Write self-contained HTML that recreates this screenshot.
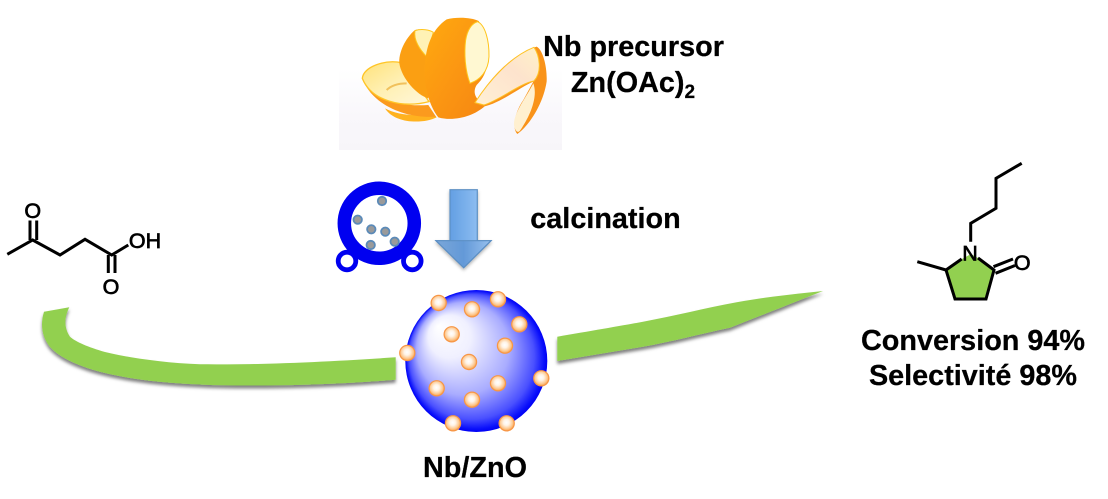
<!DOCTYPE html>
<html>
<head>
<meta charset="utf-8">
<style>
html,body{margin:0;padding:0;background:#fff;width:1108px;height:499px;overflow:hidden}
svg{display:block}
text{font-family:"Liberation Sans",sans-serif;fill:#000}
.b{font-weight:bold;font-size:28.8px;text-anchor:middle;stroke:#000;stroke-width:.25px}
.a{font-size:21.5px;text-anchor:middle;stroke:#000;stroke-width:.7px}
</style>
</head>
<body>
<svg width="1108" height="499" viewBox="0 0 1108 499" xmlns="http://www.w3.org/2000/svg">
<defs>
<radialGradient id="sph" gradientUnits="userSpaceOnUse" cx="476.3" cy="361" r="71" fx="438" fy="326">
<stop offset="0" stop-color="#fff"/><stop offset=".3" stop-color="#f0f0ff"/><stop offset=".65" stop-color="#a9acff"/><stop offset=".88" stop-color="#4a50ff"/><stop offset=".97" stop-color="#0a10fb"/><stop offset="1" stop-color="#0000f5"/>
</radialGradient>
<radialGradient id="ball" cx=".48" cy=".45" r=".55">
<stop offset="0" stop-color="#fff"/><stop offset=".35" stop-color="#fff3e6"/><stop offset=".75" stop-color="#fdc88f"/><stop offset="1" stop-color="#fa9e47"/>
</radialGradient>
<linearGradient id="arr" x1="0" x2="1" y1="0" y2="0">
<stop offset="0" stop-color="#4f8fdc"/><stop offset=".5" stop-color="#77aeea"/><stop offset="1" stop-color="#a2cbf7"/>
</linearGradient>
<linearGradient id="arr2" gradientUnits="userSpaceOnUse" x1="436" x2="491" y1="0" y2="0">
<stop offset="0" stop-color="#7ba7d9"/><stop offset=".5" stop-color="#6399d8"/><stop offset="1" stop-color="#97c0ee"/>
</linearGradient>
<filter id="sh" x="-10%" y="-20%" width="120%" height="150%">
<feDropShadow dx="0" dy="3" stdDeviation="1.6" flood-color="#000" flood-opacity=".5"/>
</filter>
<filter id="sh2" x="-20%" y="-20%" width="140%" height="140%">
<feDropShadow dx="0" dy="2" stdDeviation="1.5" flood-color="#000" flood-opacity=".3"/>
</filter>
<linearGradient id="bg" x1="0" x2="0" y1="0" y2="1">
<stop offset="0" stop-color="#fff"/><stop offset=".4" stop-color="#fff"/><stop offset=".75" stop-color="#f9f7fb"/><stop offset="1" stop-color="#f7f5f9"/>
</linearGradient>
<linearGradient id="band" x1="0" x2="1" y1="0" y2="1">
<stop offset="0" stop-color="#ffaa0f"/><stop offset=".55" stop-color="#fb9512"/><stop offset="1" stop-color="#f58613"/>
</linearGradient>
<linearGradient id="pith" x1="0" x2="1" y1="0" y2="1">
<stop offset="0" stop-color="#ffe27a"/><stop offset=".5" stop-color="#fff0b4"/><stop offset="1" stop-color="#fff7dc"/>
</linearGradient>
<linearGradient id="pith2" x1="0" x2="1" y1="1" y2="0">
<stop offset="0" stop-color="#fff0d5"/><stop offset=".6" stop-color="#fde3cd"/><stop offset="1" stop-color="#fff2c8"/>
</linearGradient>
</defs>

<!-- orange peel -->
<rect x="339" y="15" width="223" height="135" fill="url(#bg)"/>
<g transform="translate(330,0) scale(.3333)">
<path d="M165,325 C200,345 260,350 310,340 L320,352 C280,372 195,372 165,325Z" fill="#ffb21f"/>
<path d="M97,238 C130,305 220,320 295,315 L318,350 C240,356 135,325 97,238Z" fill="#fb9a1e"/>
<path d="M97,235 C100,200 165,178 215,188 L297,305 C220,325 125,305 97,235Z" fill="url(#pith)" stroke="#ffc526" stroke-width="4"/>
<path d="M170,270 C185,255 210,250 230,250" fill="none" stroke="#f1c15c" stroke-width="6"/>
<path d="M255,90 C225,115 205,160 208,190 C215,235 260,285 295,295 L310,100 C290,90 270,85 255,90Z" fill="#fb9f12"/>
<path d="M255,92 C275,85 300,90 310,97 L290,170 C270,150 250,120 255,92Z" fill="#fff2b5" stroke="#ffc51c" stroke-width="3"/>
<path d="M350,58 C380,50 425,52 446,63 L470,110 C482,160 478,220 440,255 C425,280 440,300 465,318 C430,350 370,365 325,352 C292,310 280,240 285,190 C290,130 310,85 350,58Z" fill="url(#band)"/>
<path d="M443,65 C465,75 478,120 477,170 C475,215 450,240 420,250 C405,210 402,160 407,120 C412,90 425,70 443,65Z" fill="#fff8d2" stroke="#ffc51c" stroke-width="3"/>
<path d="M435,310 C470,250 530,170 620,140 C640,150 652,205 650,245 C640,310 600,375 562,402 C545,385 555,335 580,300 L610,245 C570,262 510,310 460,320Z" fill="#f9931a"/>
<path d="M435,308 C475,245 540,170 612,142 C628,165 638,215 612,243 C570,250 510,300 462,315Z" fill="url(#pith2)" stroke="#ffc325" stroke-width="3"/>
<path d="M610,250 C590,290 550,340 552,375 C555,395 565,400 570,392 C600,350 625,290 610,250Z" fill="#fff0d0"/>
</g>

<!-- vesicle icon -->
<circle cx="379.3" cy="223.3" r="35" fill="#fff" stroke="#0000f0" stroke-width="13.5"/>
<circle cx="347" cy="261" r="8.8" fill="#fff" stroke="#0000f0" stroke-width="4.8"/>
<circle cx="412.3" cy="261" r="8.8" fill="#fff" stroke="#0000f0" stroke-width="4.8"/>
<g fill="#9a9a9a" stroke="#5b8ab8" stroke-width="1.8">
<circle cx="382" cy="201" r="4.2"/>
<circle cx="357.7" cy="219.7" r="4.2"/>
<circle cx="371.3" cy="229.3" r="4.2"/>
<circle cx="385.3" cy="231.7" r="4.2"/>
<circle cx="394.7" cy="241.7" r="4.2"/>
<circle cx="370.7" cy="245" r="4.2"/>
</g>

<!-- down arrow -->
<path d="M450,189.7H477.3V240.7H491L463.7,267.7L436,240.7H450Z" fill="url(#arr)" stroke="#5c8fc4" stroke-width="1.2" filter="url(#sh2)"/>
<path d="M436,240.7H491L463.7,267.7Z" fill="url(#arr2)" stroke="#5c8fc4" stroke-width="1.2"/>

<!-- green swooshes -->
<path d="M395.7,357.3 C340,361 270,365 200,364.3 C165,363 130,358 105,352 C88,347 76,342 70,336.7 C64,328 64,318 69.3,307.3 L44,311.7 C40,325 42,337 50,347 C60,358 80,367 105,373 C135,380 165,383 200,384.5 C240,386.5 320,386 395.7,379.7Z" fill="#92d050" filter="url(#sh)"/>
<path d="M557.3,336.7 C590,331 620,326 643,321.7 C675,316 705,308 736.7,302.3 C765,297 795,294 823,291 C790,304 760,316 730,327.7 C700,334 670,342 643,346.7 L557.3,361Z" fill="#92d050" filter="url(#sh)"/>

<!-- catalyst sphere -->
<circle cx="476.3" cy="361" r="71" fill="url(#sph)"/>
<g fill="url(#ball)" stroke="#f79646" stroke-width="1.2">
<circle cx="438.7" cy="303" r="7.6"/>
<circle cx="472" cy="309.3" r="7.6"/>
<circle cx="498" cy="299.3" r="7.6"/>
<circle cx="519.3" cy="324.3" r="7.6"/>
<circle cx="451.7" cy="334.3" r="7.6"/>
<circle cx="505" cy="345.7" r="7.6"/>
<circle cx="407.3" cy="353" r="7.6"/>
<circle cx="469" cy="362" r="7.6"/>
<circle cx="541.3" cy="378.3" r="7.6"/>
<circle cx="498" cy="383.3" r="7.6"/>
<circle cx="436.7" cy="388.3" r="7.6"/>
<circle cx="472" cy="399.7" r="7.6"/>
<circle cx="453" cy="423.3" r="7.6"/>
<circle cx="506.7" cy="423.3" r="7.6"/>
</g>

<!-- levulinic acid -->
<g fill="none" stroke="#000" stroke-width="3" stroke-linejoin="miter">
<path d="M7.3,254.3L32.7,240L60,255L85,239.3L111.7,255L128.3,245"/>
<path d="M30,240V220.5M36.7,240V220.5"/>
<path d="M108.3,255V273M115,255V273"/>
</g>
<text class="a" x="32.7" y="218">O</text>
<text class="a" x="111" y="294">O</text>
<text class="a" x="145" y="248">OH</text>

<!-- product -->
<path d="M962,259L971,254L978,258L994,270L986,299H955L946,270Z" fill="#92d050"/>
<g fill="none" stroke="#000" stroke-width="3">
<path d="M1021.7,163.3L996,178.3V208.3L970.7,223.3V241.7"/>
<path d="M978,258L994,270L986,299H955L946,270L961.7,259"/>
<path d="M946,270L917.3,261.7"/>
<path d="M993.5,266.7L1013,259M995.5,273.3L1015,265.5"/>
</g>
<text class="a" x="970" y="260.5">N</text>
<text class="a" x="1022.3" y="270">O</text>

<!-- labels -->
<text class="b" x="633.5" y="56">Nb precursor</text>
<text class="b" x="633" y="92">Zn(OAc)<tspan font-size="19" dy="6">2</tspan></text>
<text class="b" x="605.5" y="228">calcination</text>
<text class="b" x="973" y="350">Conversion 94%</text>
<text class="b" x="973" y="385">Selectivité 98%</text>
<text class="b" x="475" y="477">Nb/ZnO</text>
</svg>
</body>
</html>
